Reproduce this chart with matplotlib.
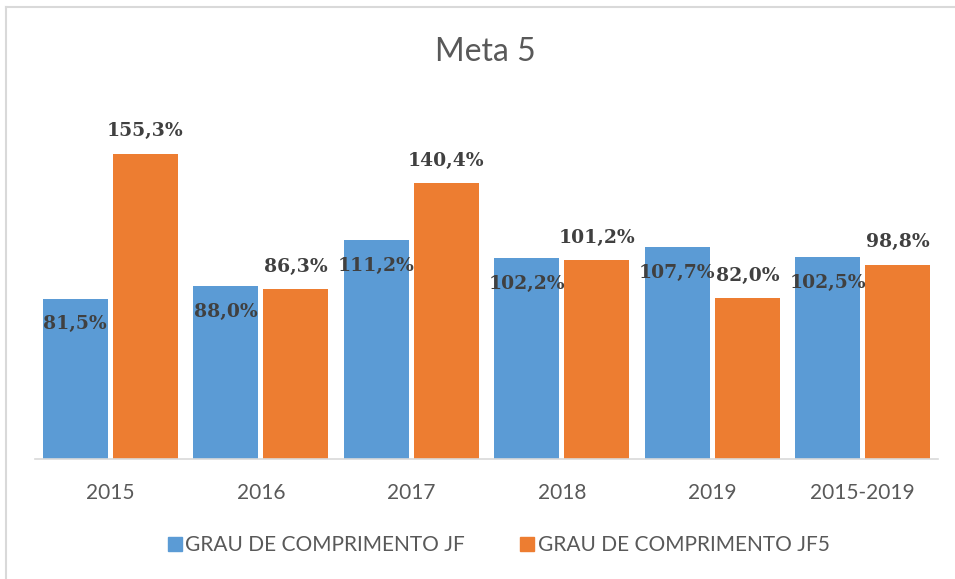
import numpy as np
import matplotlib.pyplot as plt
from matplotlib.lines import Line2D

categories = ['2015', '2016', '2017', '2018', '2019', '2015-2019']
grau_jf = [81.5, 88.0, 111.2, 102.2, 107.7, 102.5]
grau_jf5 = [155.3, 86.3, 140.4, 101.2, 82.0, 98.8]
series_names = ['GRAU DE COMPRIMENTO JF', 'GRAU DE COMPRIMENTO JF5']

BLUE = '#5B9BD5'
ORANGE = '#ED7D31'
TEXT_GRAY = '#595959'
LABEL_GRAY = '#404040'

plt.rcParams['font.family'] = ['Lato', 'DejaVu Sans']


def fmt(v):
    return f"{v:.1f}%".replace('.', ',')


fig = plt.figure(figsize=(9.55, 5.79), dpi=100)
ax = fig.add_axes([35 / 955, 1 - 459 / 579, 903 / 955, (459 - 105) / 579])

x = np.arange(len(categories))
w = 65 / 150
off = 35 / 150
b1 = ax.bar(x - off, grau_jf, w, color=BLUE)
b2 = ax.bar(x + off, grau_jf5, w, color=ORANGE)

lab_font = dict(family='DejaVu Serif', fontweight='bold', fontsize=13.5, color=LABEL_GRAY)
for rect, v in zip(b1, grau_jf):
    ax.annotate(fmt(v), (rect.get_x() + rect.get_width() / 2, v),
                xytext=(0, -18.5), textcoords='offset points',
                ha='center', va='center', **lab_font)
for rect, v in zip(b2, grau_jf5):
    ax.annotate(fmt(v), (rect.get_x() + rect.get_width() / 2, v),
                xytext=(0, 16), textcoords='offset points',
                ha='center', va='center', **lab_font)

ax.set_xlim(-0.5, len(categories) - 0.5)
ax.set_ylim(0, 180)
ax.set_yticks([])
ax.set_xticks(x)
ax.set_xticklabels(categories, fontsize=15, color=TEXT_GRAY)
ax.tick_params(axis='x', length=0, pad=17)
for s in ['top', 'right', 'left']:
    ax.spines[s].set_visible(False)
ax.spines['bottom'].set_color('#D9D9D9')
ax.spines['bottom'].set_linewidth(1.2)

fig.text(485 / 955, 1 - 52 / 579, 'Meta 5', ha='center', va='center',
         fontsize=23, color=TEXT_GRAY)

handles = [Line2D([], [], marker='s', linestyle='', markersize=10, color=BLUE),
           Line2D([], [], marker='s', linestyle='', markersize=10, color=ORANGE)]
fig.legend(handles, series_names, loc='center', bbox_to_anchor=(498 / 955, 1 - 545 / 579),
           ncol=2, frameon=False, fontsize=15, labelcolor=TEXT_GRAY,
           handletextpad=0.1, columnspacing=2.6, handlelength=0.8)

# chart border (top and left edges visible)
fig.add_artist(Line2D([5.5 / 955, 1], [1 - 6.5 / 579, 1 - 6.5 / 579], color='#D9D9D9', lw=1.5))
fig.add_artist(Line2D([5.5 / 955, 5.5 / 955], [0, 1 - 6.5 / 579], color='#D9D9D9', lw=1.5))

fig.savefig('out.png', dpi=100)
